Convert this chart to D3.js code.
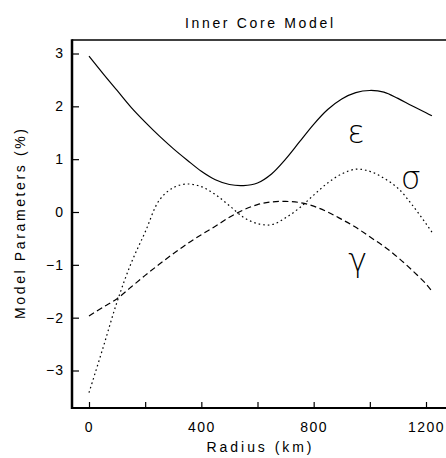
<!DOCTYPE html>
<html lang="en">
	<head>
		<meta charset="utf-8">
		<title>Inner Core Model</title>
		<script type="text/javascript" src="https://cdn.jsdelivr.net/npm/d3@7"></script>
		<style type="text/css">
			body { margin: 0; background: #fff; }
			text { font-family: "Liberation Sans", "DejaVu Sans", sans-serif; fill: #000; }
		</style>
	</head>
	<body>
		<script type="text/javascript">

			//Data (radius in km, parameters in %)
			let radius  = [0, 50, 100, 150, 200, 250, 300, 350, 400, 450, 500, 550, 600,
			               650, 700, 750, 800, 850, 900, 950, 1000, 1050, 1100, 1150, 1200, 1221];
			let epsilon = [2.95, 2.62, 2.3, 1.98, 1.7, 1.44, 1.2, 0.98, 0.77, 0.61, 0.52, 0.5, 0.55,
			               0.72, 1.0, 1.33, 1.66, 1.94, 2.14, 2.26, 2.3, 2.27, 2.15, 2.01, 1.88, 1.82];
			let sigma   = [-3.42, -2.57, -1.7, -0.97, -0.38, 0.22, 0.46, 0.53, 0.48, 0.33, 0.12, -0.1, -0.22,
			               -0.24, -0.11, 0.08, 0.32, 0.55, 0.72, 0.81, 0.77, 0.64, 0.45, 0.14, -0.22, -0.38];
			let gamma   = [-1.97, -1.8, -1.64, -1.42, -1.2, -0.99, -0.79, -0.6, -0.43, -0.27, -0.1, 0.04, 0.14,
			               0.19, 0.2, 0.18, 0.11, 0.0, -0.14, -0.29, -0.47, -0.65, -0.86, -1.1, -1.36, -1.5];

			let xTicks = [0, 200, 400, 600, 800, 1000, 1200];
			let xLabels = [0, 400, 800, 1200];
			let yTicks = [-3, -2, -1, 0, 1, 2, 3];

			//Label positions for the curve symbols
			let symbols = [
				{ name: "\u03B5", r: 950,  v: 1.31 },
				{ name: "\u03C3", r: 1146, v: 0.44 },
				{ name: "\u03B3", r: 957,  v: -1.12 }
			];

			//Width and height
			let w = 446;
			let h = 458;
			let frame = { left: 72, top: 40, bottom: 408, right: 470 };

			let x = d3.scaleLinear().domain([0, 1200]).range([89, 426]);
			let y = d3.scaleLinear().domain([-3, 3]).range([370.5, 53.5]);

			let svg = d3.select("body")
						.append("svg")
						  .attr("width", w)
						  .attr("height", h);

			//Frame: thin top line, heavy left and bottom axes
			svg.append("line")
				.attr("x1", frame.left).attr("x2", frame.right)
				.attr("y1", frame.top).attr("y2", frame.top)
				.attr("stroke", "#000").attr("stroke-width", 1.5);

			//Y axis, ticks point inward
			let yAxis = d3.axisLeft(y)
				.tickValues(yTicks)
				.tickSize(-7)
				.tickPadding(8)
				.tickFormat(d3.format("d"));

			let gy = svg.append("g")
				.attr("transform", `translate(${frame.left},0)`)
				.call(yAxis);
			gy.select(".domain").remove();
			gy.selectAll(".tick line").attr("stroke-width", 1.2);
			gy.selectAll("text")
				.style("font-size", "14px")
				.style("letter-spacing", "1px")
				.attr("font-family", null);

			//X axis, labels only on every other tick
			let xAxis = d3.axisBottom(x)
				.tickValues(xTicks)
				.tickSize(-6)
				.tickPadding(14)
				.tickFormat(d => xLabels.includes(d) ? d : "");

			let gx = svg.append("g")
				.attr("transform", `translate(0,${frame.bottom})`)
				.call(xAxis);
			gx.select(".domain").remove();
			gx.selectAll(".tick line").attr("stroke-width", 1.2);
			gx.selectAll("text")
				.style("font-size", "14px")
				.style("letter-spacing", "1.5px")
				.attr("font-family", null);

			svg.append("line")
				.attr("x1", frame.left).attr("x2", frame.left)
				.attr("y1", frame.top - 0.75).attr("y2", frame.bottom + 1)
				.attr("stroke", "#000").attr("stroke-width", 2.5);
			svg.append("line")
				.attr("x1", frame.left - 1).attr("x2", frame.right)
				.attr("y1", frame.bottom).attr("y2", frame.bottom)
				.attr("stroke", "#000").attr("stroke-width", 2);

			//Curves
			let series = [
				{ values: epsilon, dash: null },
				{ values: sigma,   dash: "1.6,3" },
				{ values: gamma,   dash: "6,3.5" }
			];

			let line = d3.line()
				.x(d => x(d[0]))
				.y(d => y(d[1]))
				.curve(d3.curveCatmullRom);

			svg.selectAll("path.curve")
				.data(series)
				.enter()
			  .append("path")
				.attr("class", "curve")
				.attr("d", s => line(radius.map((r, i) => [r, s.values[i]])))
				.attr("fill", "none")
				.attr("stroke", "#000")
				.attr("stroke-width", 1.2)
				.attr("stroke-dasharray", s => s.dash);

			//Symbols
			svg.selectAll("text.sym")
				.data(symbols)
				.enter()
			  .append("text")
				.attr("class", "sym")
				.attr("x", d => x(d.r))
				.attr("y", d => y(d.v))
				.attr("text-anchor", "middle")
				.style("font-family", "'DejaVu Sans', sans-serif")
				.style("font-weight", 200)
				.style("font-size", "32px")
				.text(d => d.name);

			//Titles
			svg.append("text")
				.attr("x", 259).attr("y", 28)
				.attr("text-anchor", "middle")
				.attr("textLength", 148).attr("lengthAdjust", "spacing")
				.style("font-size", "14px")
				.text("Inner Core Model");

			svg.append("text")
				.attr("x", 259).attr("y", 452)
				.attr("text-anchor", "middle")
				.attr("textLength", 105).attr("lengthAdjust", "spacing")
				.style("font-size", "14px")
				.text("Radius (km)");

			svg.append("text")
				.attr("transform", "translate(25,224) rotate(-90)")
				.attr("text-anchor", "middle")
				.attr("textLength", 190).attr("lengthAdjust", "spacing")
				.style("font-size", "14px")
				.text("Model Parameters (%)");

		</script>
	</body>
</html>
